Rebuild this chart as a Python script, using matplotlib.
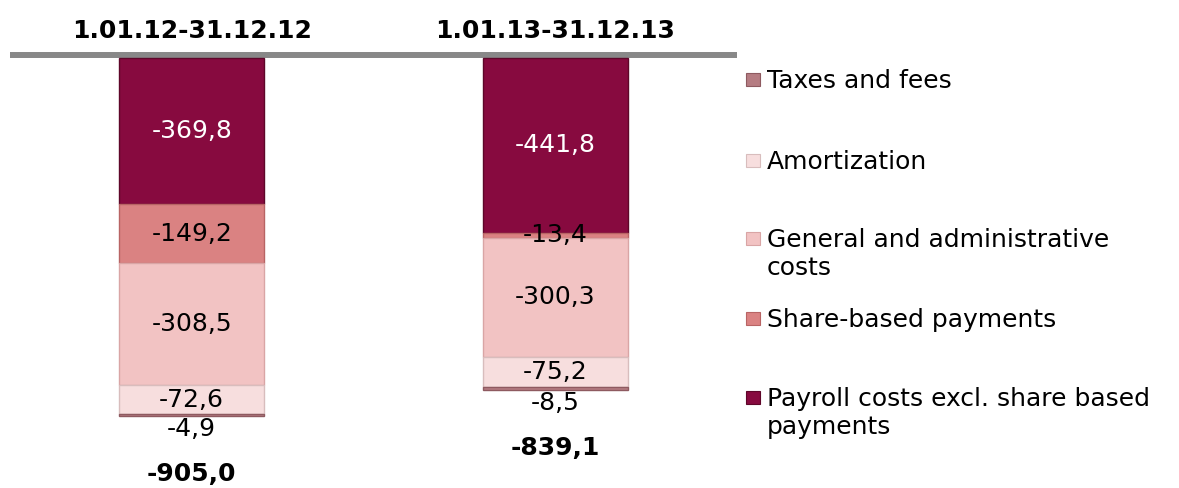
import matplotlib.pyplot as plt
from matplotlib.patches import Rectangle
import numpy as np

# data (values in the picture, read top to bottom of each bar)
categories = ['1.01.12-31.12.12', '1.01.13-31.12.13']
payroll = [-369.8, -441.8]
share_based = [-149.2, -13.4]
general_admin = [-308.5, -300.3]
amortization = [-72.6, -75.2]
taxes = [-4.9, -8.5]
totals = [-905.0, -839.1]

series_names = ['Payroll costs excl. share based\npayments', 'Share-based payments',
                'General and administrative\ncosts', 'Amortization', 'Taxes and fees']
series_values = [payroll, share_based, general_admin, amortization, taxes]
colors = ['#870A3F', '#DA8282', '#F2C3C3', '#F7DEDE', '#B57C82']
edges = ['#5E0629', '#B86464', '#D9A5A5', '#D8BDBD', '#8E5A60']
text_colors = ['white', 'black', 'black', 'black', 'black']


def fmt(v):
    return f'{v:.1f}'.replace('.', ',')


W, H = 1179, 488
fig = plt.figure(figsize=(W / 100, H / 100), dpi=100)
ax = fig.add_axes([10 / W, 0, 727 / W, 1 - 55 / H])

x = np.arange(len(categories))
bottom = np.zeros(len(categories))
for name, vals, col, ec, tc in zip(series_names, series_values, colors, edges, text_colors):
    vals = np.array(vals)
    bars = ax.bar(x, vals, width=0.4, bottom=bottom, color=col, edgecolor=ec,
                  linewidth=1, zorder=2)
    for i, b in enumerate(bars):
        if name == 'Taxes and fees':
            ax.annotate(fmt(vals[i]), (x[i], bottom[i] + vals[i]), xytext=(0, -9.7),
                        textcoords='offset points', ha='center', va='center',
                        fontsize=18, color=tc)
        else:
            ax.text(x[i], bottom[i] + vals[i] / 2, fmt(vals[i]), ha='center',
                    va='center', fontsize=18, color=tc, zorder=3)
    bottom = bottom + vals

for i, t in enumerate(totals):
    ax.annotate(fmt(t), (x[i], bottom[i]), xytext=(0, -42), textcoords='offset points',
                ha='center', va='center', fontsize=18, fontweight='bold')

ax.set_xlim(-0.5, 1.5)
ax.set_ylim(-1087, 7.6)
for s in ['left', 'right', 'bottom']:
    ax.spines[s].set_visible(False)
ax.spines['top'].set_color('#888888')
ax.spines['top'].set_linewidth(4.3)
ax.spines['top'].set_capstyle('butt')
ax.spines['top'].set_zorder(1)
ax.set_yticks([])
ax.xaxis.tick_top()
ax.set_xticks(x)
ax.set_xticklabels(categories, fontsize=18, fontweight='bold')
ax.tick_params(axis='x', length=0, pad=9)

# legend, drawn by hand (Excel-like spacing)
legend_y = [79, 160, 238, 318, 397]
legend_order = ['Taxes and fees', 'Amortization', 'General and administrative\ncosts',
                'Share-based payments', 'Payroll costs excl. share based\npayments']
for name, yc in zip(legend_order, legend_y):
    k = series_names.index(name)
    fig.add_artist(Rectangle((746 / W, 1 - (yc + 7) / H), 14 / W, 13 / H,
                             transform=fig.transFigure, facecolor=colors[k],
                             edgecolor=edges[k], linewidth=0.8))
    fig.text(767 / W, 1 - (yc - 10) / H, name, fontsize=18, va='top', ha='left')

fig.savefig('out.png', dpi=100)
